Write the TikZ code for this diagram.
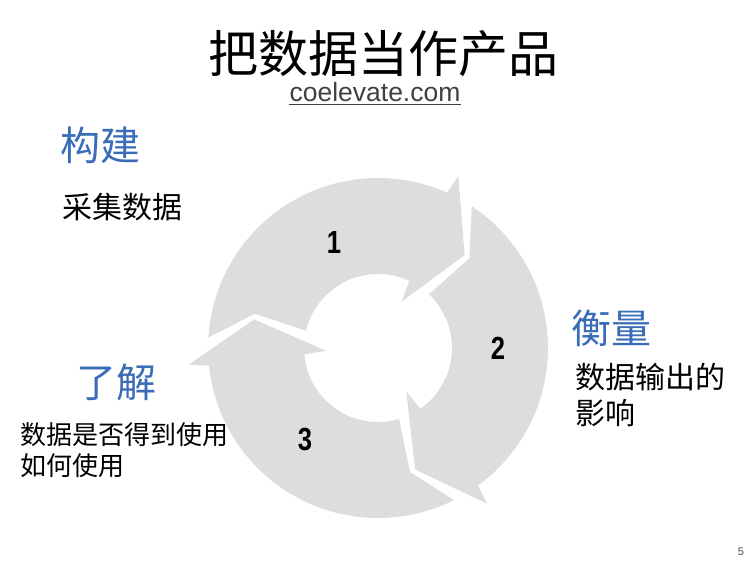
\documentclass[tikz,border=0pt]{standalone}
\usepackage{fontspec}
\setmainfont{Liberation Sans}
\newfontfamily\cjk{Noto Sans CJK SC}
\usepackage{xcolor}
\usepackage{tikz}
\usetikzlibrary{positioning,calc}

\definecolor{ringgray}{RGB}{220,221,223}
\definecolor{stageblue}{RGB}{58,108,184}

\begin{document}
\begin{tikzpicture}[
            x=1pt, y=1pt,
            every node/.style={inner sep=0pt},
            heading/.style={font=\cjk\fontsize{40}{44}\selectfont, text=stageblue},
            note/.style={font=\cjk\fontsize{30}{36}\selectfont, align=left},
            smallnote/.style={font=\cjk\fontsize{26}{31}\selectfont, align=left},
            num/.style={font=\bfseries\fontsize{32}{32}\selectfont, xscale=0.8},
        ]
            \useasboundingbox (0,0) rectangle (750,563);

            % the three arrows of the cycle
            \begin{scope}[shift={(378,215)}]
            \foreach \h in {65,-55,185}{
                \pgfmathsetmacro\t{\h+120}
                \fill[ringgray] (\t-8.5:170) arc[start angle=\t-8.5, end angle=\h+1, radius=170]
                    -- (\h:190) -- (\h-18:127) -- (\h-2:52) -- (\h:74)
                    arc[start angle=\h, end angle=\t-18.5, radius=74]
                    -- (\t-20.5:128) -- cycle;
            }
            \end{scope}

            \node[font=\cjk\fontsize{50}{52}\selectfont] (title) at (383,509) {把数据当作产品};
            \node[font=\fontsize{26.5}{28}\selectfont, text=black!75] (site) at (375,471) {coelevate.com};
            \draw[black!75, line width=1pt] ($(site.south west)+(0,-3)$) -- ($(site.south east)+(0,-3)$);

            \node[num] (one) at (334,321) {1};
            \node[num] (two) at (498,215) {2};
            \node[num] (three) at (305,123) {3};

            \node[heading] (build) at (100,418) {构建};
            \node[note] (collect) at (122.5,356) {采集数据};
            \node[heading] (measure) at (611,235) {衡量};
            \node[note, anchor=west] (impact) at (575,168) {数据输出的\\影响};
            \node[heading] (learn) at (116.5,181) {了解};
            \node[smallnote, anchor=west] (usage) at (20,112.5) {数据是否得到使用\\如何使用};

            \node[font=\fontsize{11}{11}\selectfont, text=black!70] (page) at (741,11) {5};
        \end{tikzpicture}
\end{document}
